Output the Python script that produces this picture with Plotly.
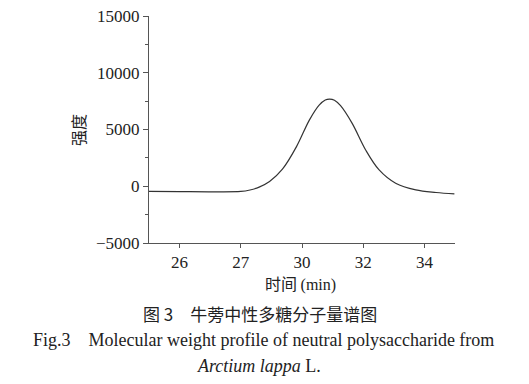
import plotly.graph_objects as go

# tick positions and labels (labels as printed)
tick_pos = [0, 1, 2, 3, 4]
tick_labels = ["26", "27", "30", "32", "34"]
y_ticks = [-5000, 0, 5000, 10000, 15000]
y_tick_labels = ["\u22125000", "0", "5000", "10000", "15000"]

# curve (x in tick-index units, y intensity)
x_vals = [-0.5, 0.0, 0.5, 1.0, 1.15, 1.3, 1.47, 1.68, 1.91, 2.12, 2.28, 2.38, 2.45, 2.53, 2.63, 2.82, 3.04, 3.26, 3.53, 3.86, 4.19, 4.49]
y_vals = [-450, -470, -490, -460, -330, -80, 410, 1500, 3490, 5830, 7150, 7600, 7680, 7580, 7100, 5540, 3200, 1440, 270, -320, -550, -670]

serif = "Liberation Serif"
cjk = "Noto Sans CJK SC"

OFF = 8
W, H = 529 - OFF, 384 - OFF
PL, PR, PT, PB = 149, 455, 16, 243  # plot area in page pixels

fig = go.Figure()
fig.add_trace(go.Scatter(x=x_vals, y=y_vals, mode="lines",
                         line=dict(color="#333333", width=1.2, shape="spline", smoothing=1.0),
                         hoverinfo="skip"))

fig.update_layout(
    width=W, height=H,
    margin=dict(l=PL - OFF, r=W - (PR - OFF), t=PT - OFF, b=H - (PB - OFF), pad=0),
    paper_bgcolor="white", plot_bgcolor="white",
    showlegend=False,
    font=dict(family=serif, size=17, color="#222222"),
)
fig.update_xaxes(range=[-0.5, 4.5], tickvals=tick_pos, ticktext=tick_labels, automargin=False,
                 showgrid=False, zeroline=False, showline=True, linecolor="#555555", linewidth=1,
                 ticks="outside", ticklen=4, tickcolor="#555555", ticklabeloverflow="allow",
                 tickfont=dict(family=serif, size=17, color="#222222"))
fig.update_yaxes(range=[-5000, 15000], tickvals=y_ticks, ticktext=y_tick_labels, automargin=False,
                 showgrid=False, zeroline=False, showline=True, linecolor="#555555", linewidth=1,
                 ticks="outside", ticklen=5, tickcolor="#555555", ticklabeloverflow="allow",
                 minor=dict(tickvals=[-2500, 2500, 7500, 12500], ticks="outside", ticklen=3, tickcolor="#555555"),
                 tickfont=dict(family=serif, size=17, color="#222222"))

def ann(text, xpix, ypix, font, size, angle=0):
    fig.add_annotation(text=text, xref="paper", yref="paper",
                       x=(xpix - PL) / (PR - PL), y=(PB - ypix) / (PB - PT),
                       xanchor="center", yanchor="middle", showarrow=False,
                       textangle=angle, font=dict(family=font, size=size, color="#222222"))

ann("强度", 78, 130, cjk, 16, angle=-90)
ann("时间 <span style='font-family:Liberation Serif'>(min)</span>", 300, 283, cjk, 16)
ann("图 3　牛蒡中性多糖分子量谱图", 260, 313, cjk, 17)
ann("Fig.3    Molecular weight profile of neutral polysaccharide from", 263, 340, serif, 18)
ann("<i>Arctium lappa</i> L.", 259, 366, serif, 18)

fig.write_html("out.html")
